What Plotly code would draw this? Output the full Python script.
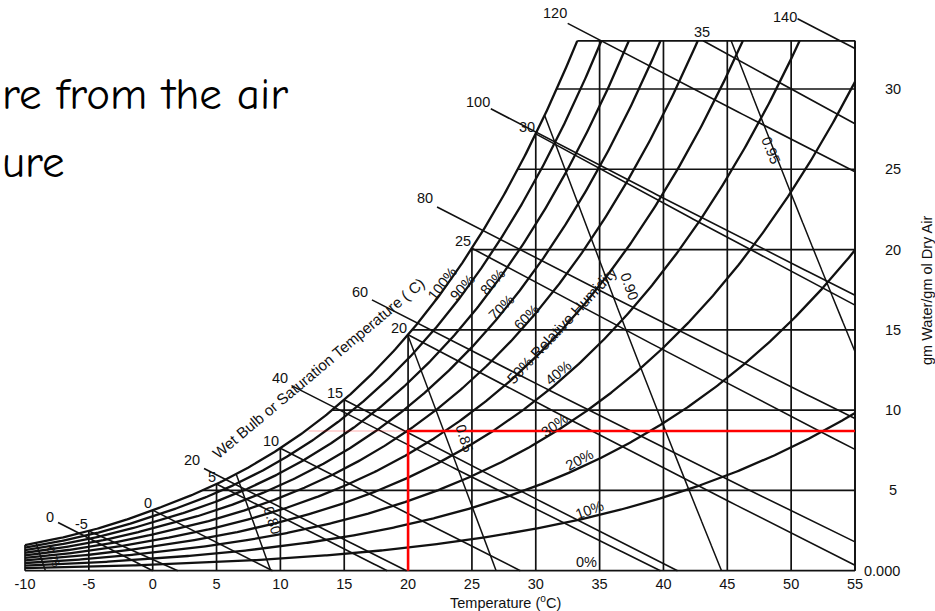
import numpy as np
import plotly.graph_objects as go

# ---------------- chart values ----------------
TEMP_TICKS = [-10, -5, 0, 5, 10, 15, 20, 25, 30, 35, 40, 45, 50, 55]
HUMIDITY_TICKS = [0, 5, 10, 15, 20, 25, 30]
HUMIDITY_TICK_TEXT = ["0.000", "5", "10", "15", "20", "25", "30"]
W_TOP = 33.0                                   # upper edge of the chart, g water / kg dry air
RH_LEVELS = [0.1, 0.2, 0.3, 0.4, 0.5, 0.6, 0.7, 0.8, 0.9, 1.0]
WET_BULB_TEMPS = [-5, 0, 5, 10, 15, 20, 25, 30, 35]
ENTHALPY_LEVELS = [0, 20, 40, 60, 80, 100, 120, 140]
VOLUME_LEVELS = [0.75, 0.80, 0.85, 0.90, 0.95]
STATE_TEMP = 20.0                              # marked air state
STATE_W = 8.7

T_MIN, T_MAX = -10.0, 55.0
P_ATM = 101325.0

# ---------------- page geometry ----------------
FIG_W, FIG_H = 935, 611
M_L, M_R, M_T, M_B = 23, 78, 0, 38
X_RANGE = [-10.157, 55.157]
Y_RANGE = [-0.143, 35.542]
PLOT_W = FIG_W - M_L - M_R
PLOT_H = FIG_H - M_T - M_B

FONT = "Liberation Sans, Arial, Helvetica, sans-serif"
INK = "#111111"
LBL = 14.5


def px_x(px):
    return (px - M_L) / PLOT_W


def px_y(py):
    return (FIG_H - M_B - py) / PLOT_H


# ---------------- psychrometric relations ----------------
def p_sat(t):
    """Saturation vapour pressure in Pa (Hyland-Wexler, ice below 0 C)."""
    T = np.asarray(t, dtype=float) + 273.15
    ice = (-5674.5359 / T + 6.3925247 - 9.677843e-3 * T + 6.2215701e-7 * T ** 2
           + 2.0747825e-9 * T ** 3 - 9.484024e-13 * T ** 4 + 4.1635019 * np.log(T))
    water = (-5800.2206 / T + 1.3914993 - 4.8640239e-2 * T + 4.1764768e-5 * T ** 2
             - 1.4452093e-8 * T ** 3 + 6.5459673 * np.log(T))
    return np.exp(np.where(T < 273.15, ice, water))


def w_rh(t, rh):
    pw = rh * p_sat(t)
    return 621.945 * pw / (P_ATM - pw)


def w_sat(t):
    return w_rh(t, 1.0)


def clip_top(xs, ys, top=W_TOP):
    """Keep the part of a polyline at or below `top`, cutting exactly on it."""
    ox, oy = [], []
    for i in range(len(xs)):
        if ys[i] <= top:
            if i > 0 and ys[i - 1] > top:
                f = (top - ys[i - 1]) / (ys[i] - ys[i - 1])
                ox.append(xs[i - 1] + f * (xs[i] - xs[i - 1]))
                oy.append(top)
            ox.append(xs[i])
            oy.append(ys[i])
        elif i > 0 and ys[i - 1] <= top:
            f = (top - ys[i - 1]) / (ys[i] - ys[i - 1])
            ox.append(xs[i - 1] + f * (xs[i] - xs[i - 1]))
            oy.append(top)
    return ox, oy


def joined(segments):
    xs, ys = [], []
    for sx, sy in segments:
        xs += list(sx) + [None]
        ys += list(sy) + [None]
    return xs, ys


fig = go.Figure()


def add_group(segments, width, color=INK):
    xs, ys = joined(segments)
    fig.add_trace(go.Scatter(x=xs, y=ys, mode="lines", hoverinfo="skip",
                             line=dict(color=color, width=width), showlegend=False))


# ---- grid: constant dry-bulb and constant humidity-ratio lines ----
t_fine = np.linspace(T_MIN, 40, 4001)
ws_fine = w_sat(t_fine)

grid = []
for t in TEMP_TICKS:
    grid.append(([t, t], [0, min(float(w_sat(t)), W_TOP)]))
for w in HUMIDITY_TICKS[1:] + [W_TOP]:
    t_dew = float(np.interp(w, ws_fine, t_fine))
    grid.append(([t_dew, T_MAX], [w, w]))
grid.append(([T_MIN, T_MAX], [0, 0]))
add_group(grid, 1.7)

# ---- relative humidity curves ----
t_curve = np.linspace(T_MIN, T_MAX, 521)
rh_segs = []
for rh in RH_LEVELS:
    rh_segs.append(clip_top(list(t_curve), list(w_rh(t_curve, rh))))
add_group(rh_segs, 2.3)

# ---- wet-bulb lines ----
wb_segs = []
for tw in WET_BULB_TEMPS:
    ws_star = float(w_sat(tw)) / 1000.0
    if tw >= 0:
        a = (2501 - 2.326 * tw) * ws_star
        b0, c = 2501 - 4.186 * tw, 1.86
    else:
        a = (2830 - 0.24 * tw) * ws_star
        b0, c = 2830 - 2.1 * tw, 1.86
    t_end = min(T_MAX, tw + a / 1.006)
    tt = np.linspace(tw, t_end, 80)
    ww = 1000 * (a - 1.006 * (tt - tw)) / (b0 + c * tt)
    wb_segs.append(clip_top(list(tt), list(ww)))
add_group(wb_segs, 1.6)

# ---- enthalpy lines (kJ/kg), each starting just past its label ----
ENTH_LABEL_POS = [(-8.04, 3.34), (3.08, 6.89), (9.97, 12.0), (16.23, 17.35),
                  (21.33, 23.2), (25.48, 29.18), (31.5, 34.72), (49.5, 34.5)]
ENTH_LEAD = [0.63, 0.94, 0.94, 0.94, 0.94, 1.0, 1.0, 1.0]
en_segs = []
for h, (lt, lw), lead in zip(ENTHALPY_LEVELS, ENTH_LABEL_POS, ENTH_LEAD):
    t0 = lt + lead
    t_end = min(T_MAX, h / 1.006)
    tt = np.linspace(t0, t_end, 80)
    ww = 1000 * (h - 1.006 * tt) / (2501 + 1.86 * tt)
    en_segs.append((list(tt), list(ww)))
add_group(en_segs, 1.6)

# ---- specific volume lines (m3/kg) ----
w_grid = np.linspace(0, W_TOP, 3301)
vol_segs = []
for v in VOLUME_LEVELS:
    tv = v * P_ATM / (287.042 * (1 + 1.607858 * w_grid / 1000)) - 273.15
    ok = (w_grid <= w_sat(tv)) & (tv <= T_MAX) & (tv >= T_MIN)
    vol_segs.append((list(tv[ok]), list(w_grid[ok])))
add_group(vol_segs, 1.5)

# ---- right edge ----
add_group([([T_MAX, T_MAX], [0, W_TOP])], 1.7)

# ---- marked state: dry bulb and humidity ratio ----
fig.add_trace(go.Scatter(x=[12.2, STATE_TEMP], y=[STATE_W, STATE_W], mode="lines",
                         hoverinfo="skip", showlegend=False,
                         line=dict(color="rgba(255,0,0,0.16)", width=2)))
fig.add_trace(go.Scatter(x=[STATE_TEMP, STATE_TEMP, T_MAX], y=[0, STATE_W, STATE_W],
                         mode="lines", hoverinfo="skip", showlegend=False,
                         line=dict(color="#ff0000", width=2.6)))

# ---------------- labels ----------------
ann = []


def label(text, x, y, angle=0, size=LBL, **kw):
    d = dict(text=text, x=x, y=y, xref="x", yref="y", showarrow=False, textangle=angle,
             xanchor="center", yanchor="middle",
             font=dict(family=FONT, size=size, color=INK))
    d.update(kw)
    ann.append(d)


def page_text(text, px, py, size=LBL, angle=0, xanchor="center", family=FONT, color=INK):
    ann.append(dict(text=text, x=px_x(px), y=px_y(py), xref="paper", yref="paper",
                    showarrow=False, textangle=angle, xanchor=xanchor, yanchor="middle",
                    font=dict(family=family, size=size, color=color)))


# relative humidity
RH_LABELS = [("100%", 22.66, 17.85, -52, LBL), ("90%", 24.3, 17.65, -48, LBL),
             ("80%", 26.6, 18.0, -48, LBL), ("70%", 27.35, 16.4, -44, LBL),
             ("60%", 29.3, 15.8, -45, LBL),
             ("50% Relative Humidity", 32.0, 15.3, -47, 15.2), ("40%", 31.75, 12.3, -40, LBL),
             ("30%", 31.5, 9.07, -36, LBL), ("20%", 33.4, 6.9, -28, LBL),
             ("10%", 34.2, 3.8, -20, LBL), ("0%", 34.0, 0.55, 0, LBL)]
for txt, x, y, a, s in RH_LABELS:
    label(txt, x, y, a, size=s)

# wet-bulb temperatures on the saturation curve
for tw in WET_BULB_TEMPS:
    ws = float(w_sat(tw))
    if ws <= W_TOP:
        label(str(tw), tw, ws, xanchor="right", yanchor="bottom", xshift=1, yshift=-3)
    else:
        label(str(tw), 43.0, 33.55)

# enthalpy values
for h, (lt, lw) in zip(ENTHALPY_LEVELS, ENTH_LABEL_POS):
    label(str(h), lt, lw)

# specific volume values
VOL_LABELS = [("0.75", -7.8, 0.9, 72, 11), ("0.80", 9.34, 3.13, 72, LBL), ("0.85", 24.38, 8.24, 72, LBL),
              ("0.90", 37.3, 17.7, 70, LBL), ("0.95", 48.4, 26.2, 68, LBL)]
for txt, x, y, a, s in VOL_LABELS:
    label(txt, x, y, a, size=s)

label("Wet Bulb or Saturation Temperature ( C)", 12.95, 12.6, -40, size=15.2)

# right-hand humidity ratio scale
for w, txt in zip(HUMIDITY_TICKS, HUMIDITY_TICK_TEXT):
    ann.append(dict(text=txt, x=px_x(862 if w == 0 else 893), y=w, xref="paper", yref="y",
                    showarrow=False, xanchor="left" if w == 0 else "center", yanchor="middle",
                    font=dict(family=FONT, size=LBL, color=INK)))

page_text("gm Water/gm ol Dry Air", 927, 290, angle=-90)
page_text("Temperature (<sup>o</sup>C)", 506, 602)

# slide text to the left of the chart
SLIDE_FONT = "Comic Sans MS, Comic Neue, Lato, sans-serif"
page_text("re from the air", 0, 94, size=45, xanchor="left", family=SLIDE_FONT, color="#000000")
page_text("ure", 0, 162, size=45, xanchor="left", family=SLIDE_FONT, color="#000000")

fig.update_layout(
    width=FIG_W, height=FIG_H,
    margin=dict(l=M_L, r=M_R, t=M_T, b=M_B, pad=0),
    paper_bgcolor="white", plot_bgcolor="white",
    annotations=ann,
    xaxis=dict(range=X_RANGE, tickvals=TEMP_TICKS, ticktext=[str(t) for t in TEMP_TICKS],
               showgrid=False, zeroline=False, showline=False, ticks="",
               tickfont=dict(family=FONT, size=LBL, color=INK), fixedrange=True),
    yaxis=dict(range=Y_RANGE, visible=False, fixedrange=True),
)

fig.write_html("out.html")
